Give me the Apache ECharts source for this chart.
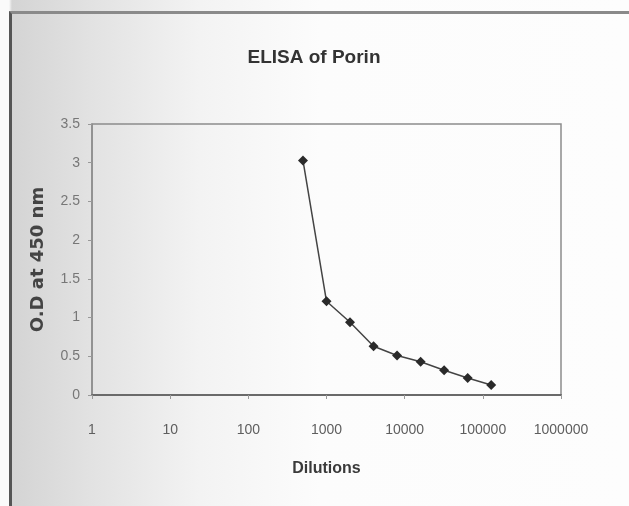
<!DOCTYPE html>
<html>
<head>
<meta charset="utf-8">
<script src="https://cdn.jsdelivr.net/npm/echarts@6/dist/echarts.min.js"></script>
<style>
  html, body { margin: 0; padding: 0; background: #fdfdfd; }
  #page {
    position: absolute; left: 0; top: 0; width: 629px; height: 506px;
    background: linear-gradient(90deg, #fafafa 0px, #fafafa 9px, #d4d4d4 12px, #e2e2e2 90px, #f3f3f3 200px, #fcfcfc 320px, #fdfdfd 629px);
  }
  #frame {
    position: absolute; left: 9px; top: 11px; width: 640px; height: 520px;
    border-left: 3px solid #555; border-top: 3px solid #8a8a8a;
  }
  #chart { position: absolute; left: 0; top: 0; width: 629px; height: 506px; }
</style>
</head>
<body>
<div id="page"></div>
<div id="frame"></div>
<div id="chart"></div>
<script>
// Serum dilution series and measured optical density
const dilutions = [500, 1000, 2000, 4000, 8000, 16000, 32000, 64000, 128000];
const odValues = [3.03, 1.21, 0.94, 0.63, 0.51, 0.43, 0.32, 0.22, 0.13];
const xTickLabels = ['1', '10', '100', '1000', '10000', '100000', '1000000'];
const yTickLabels = ['0', '0.5', '1', '1.5', '2', '2.5', '3', '3.5'];

const narrow = "'Liberation Sans Narrow', 'Liberation Sans', Arial, sans-serif";

const chart = echarts.init(document.getElementById('chart'), null, { renderer: 'canvas' });

chart.setOption({
  backgroundColor: 'transparent',
  animation: false,
  title: {
    text: 'ELISA of Porin',
    left: 309, top: 43, textAlign: 'center',
    textStyle: { fontFamily: narrow, fontWeight: 'bold', fontSize: 19, color: '#333' }
  },
  grid: {
    left: 92, right: 68, top: 124, bottom: 111,
    show: true, borderColor: '#8c8c8c', borderWidth: 1.5, backgroundColor: 'transparent'
  },
  xAxis: {
    type: 'log', logBase: 10, min: 1, max: 1000000, splitNumber: 6,
    name: 'Dilutions', nameLocation: 'middle', nameGap: 66,
    nameTextStyle: { fontFamily: narrow, fontWeight: 'bold', fontSize: 16, color: '#3a3a3a' },
    axisLine: { lineStyle: { color: '#6a6a6a', width: 2 } },
    axisTick: { show: true, inside: false, length: 4, lineStyle: { color: '#999' } },
    splitLine: { show: false },
    axisLabel: {
      margin: 28, fontFamily: narrow, fontSize: 14, color: '#5e5e5e',
      formatter: v => xTickLabels[Math.round(Math.log10(v))]
    }
  },
  yAxis: {
    type: 'value', min: 0, max: 3.5, interval: 0.5,
    name: 'O.D at 450 nm', nameLocation: 'middle', nameGap: 45, nameRotate: 90,
    nameTextStyle: { fontFamily: "'DejaVu Sans', sans-serif", fontWeight: 'bold', fontSize: 18, color: '#444' },
    axisLine: { show: true, lineStyle: { color: '#8c8c8c', width: 1.5 } },
    axisTick: { show: true, inside: false, length: 4, lineStyle: { color: '#999' } },
    splitLine: { show: false },
    axisLabel: {
      margin: 12, fontFamily: narrow, fontSize: 14, color: '#777',
      formatter: v => yTickLabels[Math.round(v * 2)]
    }
  },
  series: [{
    type: 'line',
    data: dilutions.map((d, i) => [d, odValues[i]]),
    symbol: 'diamond', symbolSize: 10,
    lineStyle: { color: '#444', width: 1.5 },
    itemStyle: { color: '#2a2a2a' }
  }]
});
</script>
</body>
</html>
